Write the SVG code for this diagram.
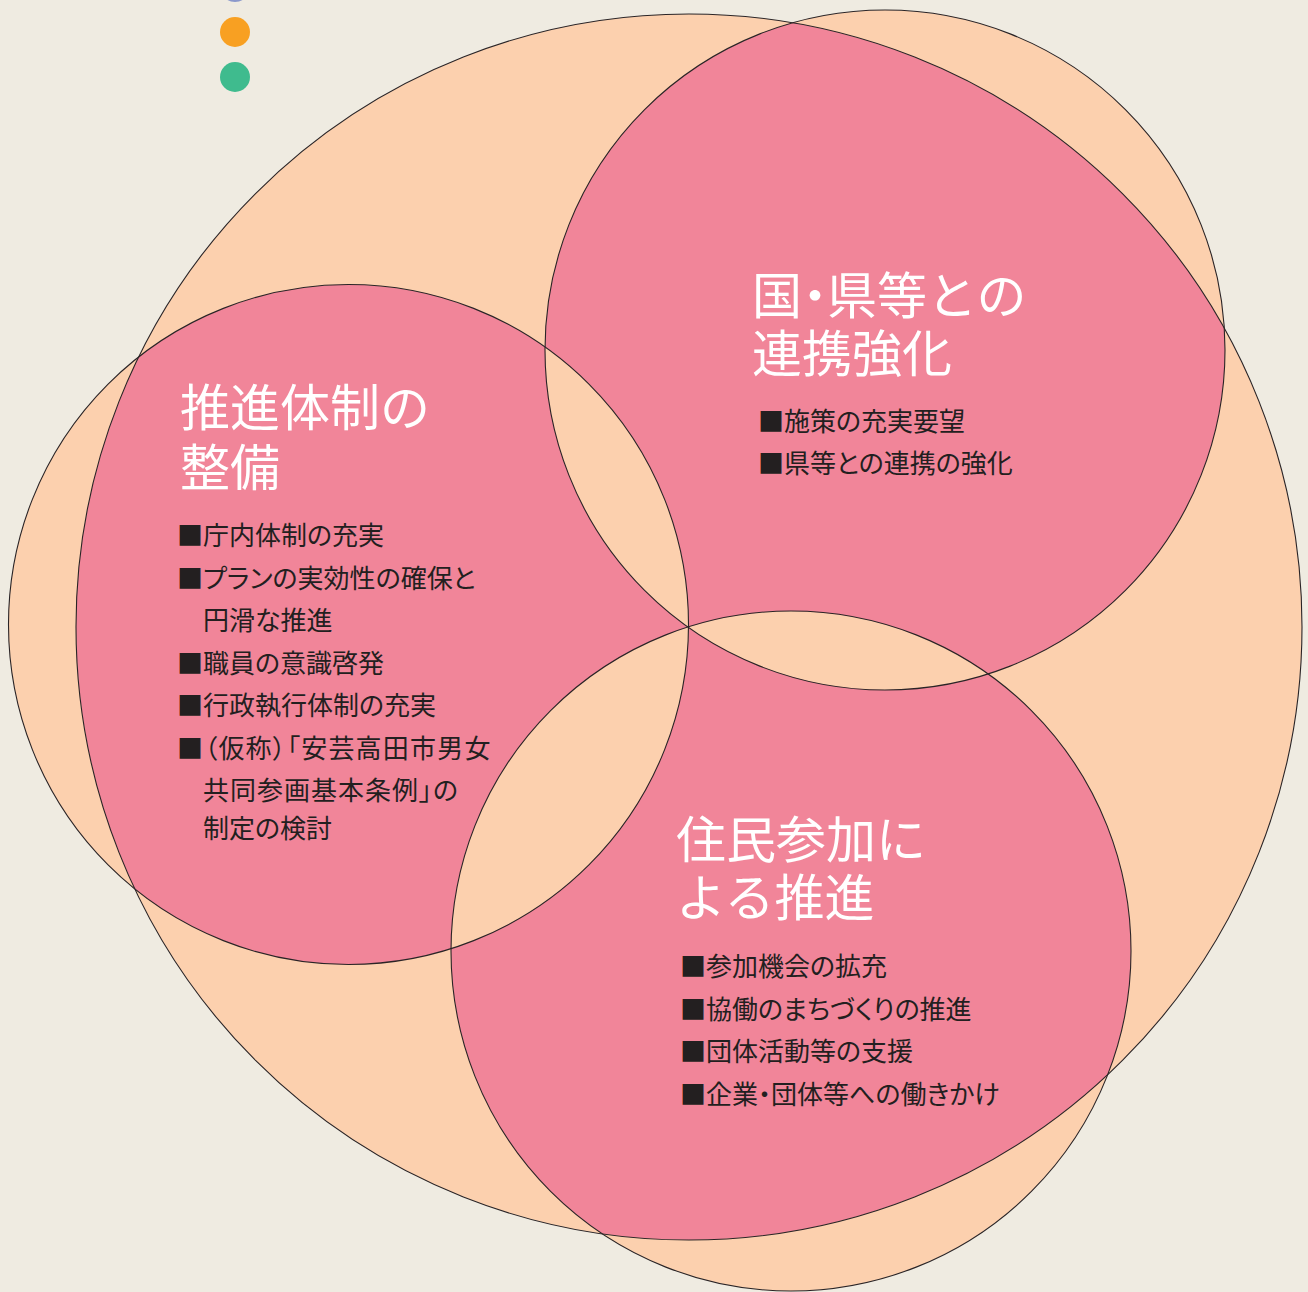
<svg xmlns="http://www.w3.org/2000/svg" width="1308" height="1292" viewBox="0 0 1308 1292">
<style>
.bg{fill:#EFEBE1}
.peach{fill:#FCD0AE}
.pink{fill:#F18599}
.outline{fill:none;stroke:#2a2426;stroke-width:1.1}
.title{font-family:"Noto Sans CJK JP","Noto Sans CJK SC",sans-serif;font-size:50px;fill:#FFFFFF}
.item{font-family:"Noto Sans CJK JP","Noto Sans CJK SC",sans-serif;font-size:26px;fill:#231F20;font-feature-settings:"palt"}
</style>
<defs>
<circle id="big" cx="689" cy="627" r="613"/>
<circle id="cA" cx="348.5" cy="624.5" r="340"/>
<circle id="cB" cx="885" cy="350" r="340"/>
<circle id="cC" cx="791" cy="951" r="340"/>
<mask id="mA" maskUnits="userSpaceOnUse" x="0" y="0" width="1308" height="1292">
<use href="#big" fill="#fff"/><use href="#cB" fill="#000"/><use href="#cC" fill="#000"/>
</mask>
<mask id="mB" maskUnits="userSpaceOnUse" x="0" y="0" width="1308" height="1292">
<use href="#big" fill="#fff"/><use href="#cA" fill="#000"/><use href="#cC" fill="#000"/>
</mask>
<mask id="mC" maskUnits="userSpaceOnUse" x="0" y="0" width="1308" height="1292">
<use href="#big" fill="#fff"/><use href="#cA" fill="#000"/><use href="#cB" fill="#000"/>
</mask>
</defs>
<rect class="bg" x="0" y="0" width="1308" height="1292"/>
<g id="legend-dots">
<circle cx="235" cy="-13" r="15" fill="#8B98CB"/>
<circle cx="235" cy="32" r="15" fill="#F8A022"/>
<circle cx="235" cy="77" r="15" fill="#3FBB8E"/>
</g>
<g id="frame">
<use href="#big" class="peach"/>
</g>
<g id="node-fills">
<use href="#cA" class="peach"/>
<use href="#cB" class="peach"/>
<use href="#cC" class="peach"/>
<use href="#cA" class="pink" mask="url(#mA)"/>
<use href="#cB" class="pink" mask="url(#mB)"/>
<use href="#cC" class="pink" mask="url(#mC)"/>
</g>
<g id="outlines">
<use href="#big" class="outline"/>
<use href="#cA" class="outline"/>
<use href="#cB" class="outline"/>
<use href="#cC" class="outline"/>
</g>
<g id="connectors"></g>
<g id="node-suishin">
<text class="title" x="180" y="426">推進体制の</text>
<text class="title" x="180" y="486">整備</text>
<text class="item" x="177" y="545">■庁内体制の充実</text>
<text class="item" x="177" y="588">■プランの実効性の確保と</text>
<text class="item" x="203" y="630">円滑な推進</text>
<text class="item" x="177" y="673">■職員の意識啓発</text>
<text class="item" x="177" y="715">■行政執行体制の充実</text>
<text class="item" x="177" y="758" letter-spacing="1.2">■（仮称）「安芸高田市男女</text>
<text class="item" x="203" y="800" letter-spacing="1">共同参画基本条例」の</text>
<text class="item" x="203" y="838">制定の検討</text>
</g>
<g id="node-renkei">
<text class="title" x="752" y="314">国<tspan dx="-12">・</tspan><tspan dx="-13">県等との</tspan></text>
<text class="title" x="752" y="372">連携強化</text>
<text class="item" x="758" y="431">■施策の充実要望</text>
<text class="item" x="758" y="473">■県等との連携の強化</text>
</g>
<g id="node-jumin">
<text class="title" x="676" y="858">住民参加に</text>
<text class="title" x="676" y="916">よる推進</text>
<text class="item" x="680" y="976">■参加機会の拡充</text>
<text class="item" x="680" y="1019">■協働のまちづくりの推進</text>
<text class="item" x="680" y="1061">■団体活動等の支援</text>
<text class="item" x="680" y="1104">■企業・団体等への働きかけ</text>
</g>
</svg>
